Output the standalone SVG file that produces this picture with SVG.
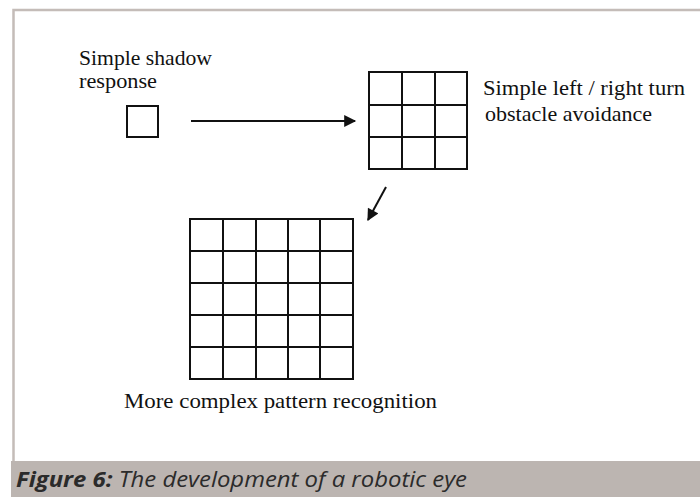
<svg xmlns="http://www.w3.org/2000/svg" width="700" height="497" viewBox="0 0 700 497">
<style>
.lbl{font-family:"Liberation Serif","Times New Roman",serif;font-size:21px;fill:#111}
.grid{fill:none;stroke:#111;stroke-width:2}
.conn{stroke:#111;stroke-width:2;fill:none}
.cap{font-family:"Open Sans","Noto Sans",sans-serif;font-size:21px;font-style:italic;fill:#2b2b2b}
</style>
<defs>
<marker id="ah" viewBox="0 0 10 10" refX="9" refY="5" markerWidth="6.5" markerHeight="6" orient="auto" markerUnits="strokeWidth">
<path d="M0,0 L10,5 L0,10 z" fill="#111"/>
</marker>
</defs>
<rect x="0" y="0" width="700" height="497" fill="#fff"/>
<path d="M13.5,461 V10 H700" fill="none" stroke="#c4bcb8" stroke-width="2.5"/>
<g id="n-single">
<rect class="grid" x="127" y="106" width="31" height="31"/>
<text class="lbl" x="79" y="65" textLength="133" lengthAdjust="spacingAndGlyphs">Simple shadow</text>
<text class="lbl" x="79" y="88" textLength="78" lengthAdjust="spacingAndGlyphs">response</text>
</g>
<g id="n-3x3">
<rect class="grid" x="369" y="72" width="98" height="97"/>
<path class="grid" d="M402,72 V169 M435,72 V169 M369,105 H467 M369,137 H467"/>
<text class="lbl" x="483" y="95" textLength="202" lengthAdjust="spacingAndGlyphs">Simple left / right turn</text>
<text class="lbl" x="485" y="121" textLength="167" lengthAdjust="spacingAndGlyphs">obstacle avoidance</text>
</g>
<g id="n-5x5">
<rect class="grid" x="190" y="219" width="163" height="160"/>
<path class="grid" d="M223,219 V379 M256,219 V379 M288,219 V379 M320,219 V379 M190,251 H353 M190,283 H353 M190,315 H353 M190,347 H353"/>
<text class="lbl" x="124" y="408" textLength="313" lengthAdjust="spacingAndGlyphs">More complex pattern recognition</text>
</g>
<g id="connectors">
<line class="conn" x1="191" y1="121" x2="355" y2="121" marker-end="url(#ah)"/>
<line class="conn" x1="386" y1="187" x2="368" y2="220" marker-end="url(#ah)"/>
</g>
<g id="caption">
<rect x="11" y="461" width="689" height="36" fill="#bcb5b1"/>
<text class="cap" x="16" y="487" textLength="451" lengthAdjust="spacingAndGlyphs"><tspan font-weight="bold">Figure 6:</tspan> The development of a robotic eye</text>
</g>
</svg>
